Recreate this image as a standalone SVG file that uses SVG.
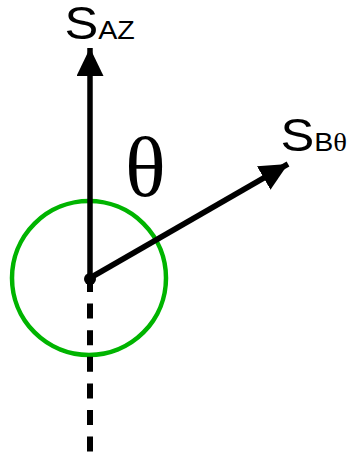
<svg xmlns="http://www.w3.org/2000/svg" width="350" height="455" viewBox="0 0 350 455">
<style>
.lbl{font-family:"Liberation Sans",Arial,sans-serif;fill:#000;font-size:46px}
.sub{font-size:26px}
.ser{font-family:"Liberation Serif","Times New Roman",serif}
.ln{stroke:#000;stroke-width:5.5;fill:none}
</style>
<defs>
<marker id="ah" markerUnits="userSpaceOnUse" markerWidth="30" markerHeight="28" refX="28" refY="13.5" orient="auto" viewBox="0 0 30 28">
<path d="M0,0 L28,13.5 L0,27 Z" fill="#000"/>
</marker>
</defs>
<rect width="350" height="455" fill="#fff"/>
<g id="circle">
<circle cx="89" cy="278" r="77" fill="none" stroke="#00b400" stroke-width="4.5"/>
</g>
<g id="connectors">
<line class="ln" x1="90" y1="278" x2="90" y2="48" marker-end="url(#ah)"/>
<line class="ln" x1="90" y1="278" x2="288" y2="164" marker-end="url(#ah)"/>
<line x1="90" y1="277" x2="90" y2="453" stroke="#000" stroke-width="6" stroke-dasharray="15 11.6"/>
</g>
<g id="origin">
<circle cx="90" cy="279" r="6" fill="#000"/>
</g>
<g id="label-saz">
<text class="lbl" transform="translate(64.5,39) scale(1.1,1)">S<tspan class="sub">AZ</tspan></text>
</g>
<g id="label-sb">
<text class="lbl" transform="translate(280.5,151) scale(1.1,1)">S<tspan class="sub">B<tspan class="ser">θ</tspan></tspan></text>
</g>
<g id="theta">
<text x="125" y="196" class="ser" font-size="85">θ</text>
</g>
</svg>
